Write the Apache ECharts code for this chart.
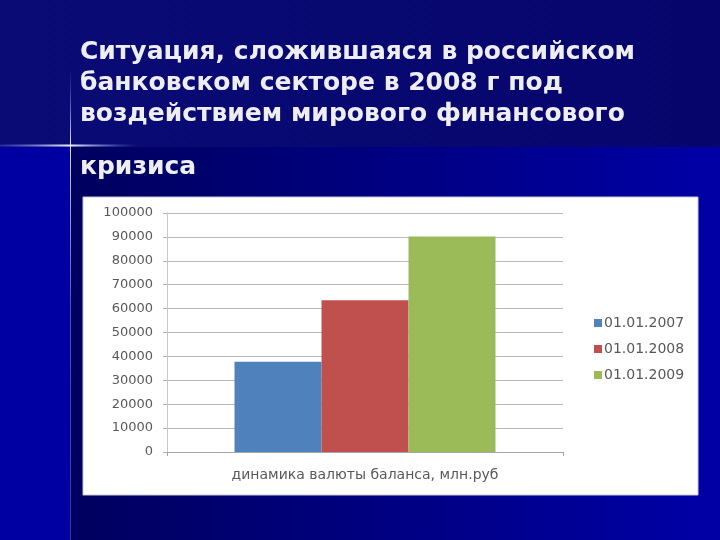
<!DOCTYPE html>
<html>
<head>
<meta charset="utf-8">
<script src="https://cdn.jsdelivr.net/npm/echarts@6/dist/echarts.min.js"></script>
<style>html,body{margin:0;padding:0;background:#08086e;}#c{width:720px;height:540px;}</style>
</head>
<body>
<div id="c"></div>
<script>
var titleLines = ['Ситуация, сложившаяся в российском', 'банковском секторе в 2008 г под', 'воздействием мирового финансового'];
var titleLast = 'кризиса';
var categories = ['динамика валюты баланса, млн.руб'];
var seriesNames = ['01.01.2007', '01.01.2008', '01.01.2009'];
var seriesValues = [37800, 63500, 90200];
var seriesColors = ['#4F81BD', '#C0504D', '#9BBB59'];
var yMin = 0, yMax = 100000, yStep = 10000;

var chart = echarts.init(document.getElementById('c'));
var labelFont = 'DejaVu Sans';
var series = seriesNames.map(function (n, i) {
  return {
    name: n, type: 'bar', data: [seriesValues[i]], barWidth: 87, barGap: '0%',
    itemStyle: { color: seriesColors[i] }
  };
});
chart.setOption({
  backgroundColor: '#08086e',
  animation: false,
  graphic: [
    { type: 'rect', z: -10, shape: { x: 0, y: 0, width: 720, height: 147 },
      style: { fill: { type: 'linear', x: 0, y: 0, x2: 1, y2: 0, colorStops: [{ offset: 0, color: '#0b0b76' }, { offset: 1, color: '#05056c' }] } } },
    { type: 'rect', z: -10, shape: { x: 0, y: 147, width: 70, height: 393 }, style: { fill: '#0000a2' } },
    { type: 'rect', z: -10, shape: { x: 70, y: 147, width: 650, height: 393 },
      style: { fill: { type: 'linear', x: 0, y: 0, x2: 1, y2: 0, colorStops: [{ offset: 0, color: '#00005e' }, { offset: 1, color: '#0000a6' }] } } },
    { type: 'line', z: -5, shape: { x1: 70.5, y1: 70, x2: 70.5, y2: 540 },
      style: { stroke: { type: 'linear', x: 0, y: 0, x2: 0, y2: 1, colorStops: [{ offset: 0, color: 'rgba(120,140,255,0)' }, { offset: 0.16, color: 'rgba(230,235,255,0.95)' }, { offset: 0.5, color: 'rgba(120,140,255,0.6)' }, { offset: 1, color: 'rgba(120,140,255,0.4)' }] }, lineWidth: 1 } },
    { type: 'line', z: -5, shape: { x1: 0, y1: 145.5, x2: 135, y2: 145.5 },
      style: { stroke: { type: 'linear', x: 0, y: 0, x2: 1, y2: 0, colorStops: [{ offset: 0, color: 'rgba(120,140,255,0.2)' }, { offset: 0.52, color: 'rgba(235,240,255,1)' }, { offset: 1, color: 'rgba(120,140,255,0)' }] }, lineWidth: 2 } },
    { type: 'rect', z: -2, shape: { x: 83, y: 197, width: 615, height: 298 },
      style: { fill: '#ffffff', stroke: '#c8c8d0', lineWidth: 1 } }
  ],
  title: [
    { text: titleLines.join('\n'), left: 80, top: 37, padding: 0,
      textStyle: { color: '#eeeef2', fontFamily: 'DejaVu Sans', fontWeight: 'bold', fontSize: 25, lineHeight: 31 } },
    { text: titleLast, left: 80, top: 152, padding: 0,
      textStyle: { color: '#eeeef2', fontFamily: 'DejaVu Sans', fontWeight: 'bold', fontSize: 25, lineHeight: 31 } }
  ],
  legend: {
    orient: 'vertical', left: 589, top: 311, itemWidth: 8, itemHeight: 8, itemGap: 12,
    icon: 'rect', data: seriesNames,
    textStyle: { color: '#595959', fontFamily: labelFont, fontSize: 14, padding: [0, 0, 0, -3] }
  },
  grid: { left: 167, right: 157, top: 213, bottom: 88 },
  xAxis: {
    type: 'category', data: categories,
    axisLine: { lineStyle: { color: '#a6a6a6' } },
    axisTick: { show: true, length: 4, lineStyle: { color: '#a6a6a6' } },
    axisLabel: { color: '#595959', fontFamily: labelFont, fontSize: 14, margin: 16 }
  },
  yAxis: {
    type: 'value', min: yMin, max: yMax, interval: yStep,
    axisLine: { show: true, lineStyle: { color: '#c8c8c8' } },
    axisTick: { show: true, length: 4, lineStyle: { color: '#b0b0b0' } },
    axisLabel: { color: '#595959', fontFamily: labelFont, fontSize: 13, margin: 14,
      formatter: function (v) { return String(v); } },
    splitLine: { lineStyle: { color: '#b8b8b8' } }
  },
  series: series
});
</script>
</body>
</html>
